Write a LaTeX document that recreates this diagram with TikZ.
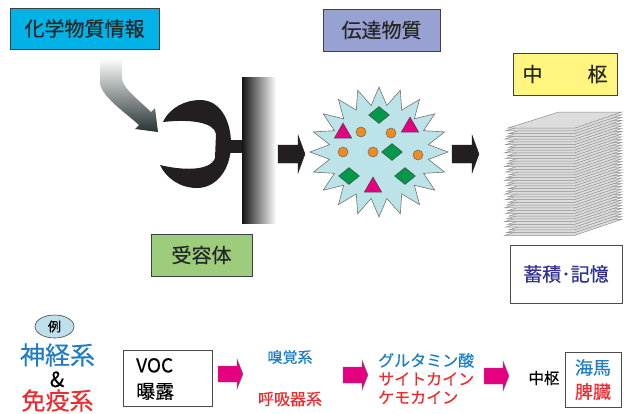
\documentclass[tikz,border=0pt]{standalone}
\usepackage{fontspec}
\setmainfont{Noto Sans CJK JP}[FakeBold=0.35]
\usetikzlibrary{shapes.geometric}

\definecolor{chembox}{HTML}{00B2E6}
\definecolor{transbox}{HTML}{97A2D3}
\definecolor{centbox}{HTML}{FFF57F}
\definecolor{recbox}{HTML}{9DCC7D}
\definecolor{burst}{HTML}{BCE3E7}
\definecolor{gem}{HTML}{00984A}
\definecolor{magentatri}{HTML}{E4007F}
\definecolor{orangedot}{HTML}{F08B22}
\definecolor{nerveblue}{HTML}{1E7DC5}
\definecolor{immunered}{HTML}{EE2A2E}
\definecolor{memblue}{HTML}{2F3191}
\definecolor{reifill}{HTML}{BDE0EA}
\definecolor{arrowdark}{HTML}{231F20}
\definecolor{sheetfill}{HTML}{DCDCDD}
\definecolor{sheetline}{HTML}{8E8E90}

\tikzset{
  titlebox/.style={draw=black!75, line width=0.9pt, inner sep=0pt,
    text=black!85, font=\fontsize{20}{24}\selectfont},
  whitebox/.style={draw=black!70, line width=0.8pt, fill=white, inner sep=0pt},
  gemstone/.style={diamond, draw=black!70, line width=0.5pt, fill=gem,
    minimum width=21pt, minimum height=17pt, inner sep=0pt},
  pyramid/.style={regular polygon, regular polygon sides=3, draw=black!70,
    line width=0.5pt, fill=magentatri, minimum size=20pt, inner sep=0pt},
  dot/.style={circle, draw=black!60, line width=0.5pt, fill=orangedot,
    minimum size=10pt, inner sep=0pt},
  smalltext/.style={inner sep=0pt, font=\fontsize{15}{18}\selectfont},
  pinkarrow/.pic={
    \filldraw[fill=magentatri, draw=black!55, line width=0.4pt]
      (0,-8) -- (19,-8) -- (19,-15) -- (25,0) -- (19,15) -- (19,8) -- (0,8) -- cycle;
  },
  blackarrow/.pic={
    \filldraw[fill=arrowdark, draw=arrowdark, line width=0.4pt]
      (0,-9) -- (20,-9) -- (20,-19) -- (27,0) -- (20,19) -- (20,9) -- (0,9) -- cycle;
  }
}

\begin{document}
\begin{tikzpicture}[x=1pt, y=-1pt]
\useasboundingbox (0,0) rectangle (628,413);

% ---- labels of the upper row ----
\node (chem) [titlebox, fill=chembox, minimum width=149pt, minimum height=41pt]
  at (84.5,28.5) {化学物質情報};
\node (trans) [titlebox, fill=transbox, minimum width=117pt, minimum height=42pt]
  at (381.5,30) {伝達物質};
\node (cent) [titlebox, fill=centbox, minimum width=104pt, minimum height=42pt]
  at (565,74) {中\hspace{45pt}枢};
\node (rec) [titlebox, fill=recbox, minimum width=101pt, minimum height=42pt]
  at (201.5,255) {受容体};
\node (store) [whitebox, minimum width=112pt, minimum height=58pt,
  text=memblue, font=\fontsize{19}{22}\selectfont] at (566,274) {蓄積･記憶};

% ---- incoming chemical signal ----
\shade[top color=white, bottom color={rgb,255:red,38;green,50;blue,50}]
  (100,58) -- (122,58) -- (122,78)
  .. controls (122,88) and (140,101) .. (151,112)
  -- (155,108) -- (158,132) -- (135,129) -- (139,125)
  .. controls (126,113) and (100,96) .. (100,82) -- cycle;

% ---- receptor and membrane ----
\fill[arrowdark]
  (163,122) .. controls (170,107) and (186,100) .. (200,100)
  .. controls (220,100) and (231,120) .. (231,144)
  .. controls (231,170) and (216,188) .. (197,188)
  .. controls (180,188) and (166,178) .. (160,165)
  .. controls (180,170) and (210,172) .. (215,158)
  -- (216,134)
  .. controls (214,122) and (190,119) .. (163,122) -- cycle;
\fill[arrowdark] (229,140) rectangle (243,153);
\shade[left color=black!92, middle color={rgb,255:red,120;green,126;blue,134},
  right color=white] (242,77) rectangle (276,223);

\pic at (278,154) {blackarrow};

% ---- transmitter burst ----
\filldraw[fill=burst, draw=black!55, line width=0.6pt]
  plot[samples at={0,...,39}]
  ({379+(59.5+9.5*cos(180*\x))*cos(9*\x)}, {152-(56+9*cos(180*\x))*sin(9*\x)})
  -- cycle;
\node (g1) [gemstone] at (379,115) {};
\node (g2) [gemstone] at (392,152) {};
\node (g3) [gemstone] at (349,176) {};
\node (g4) [gemstone] at (405,176) {};
\node (t1) [pyramid] at (343,133) {};
\node (t2) [pyramid] at (410,127) {};
\node (t3) [pyramid] at (373,187) {};
\node (d1) [dot] at (361,132) {};
\node (d2) [dot] at (391,133) {};
\node (d3) [dot] at (343,152) {};
\node (d4) [dot] at (373,152) {};
\node (d5) [dot] at (418,155) {};

\pic at (452,154) {blackarrow};

% ---- stack of sheets ----
\foreach \i in {0,...,39} {
  \pgfmathsetmacro{\yy}{112+(39-\i)*2.75}
  \pgfmathsetmacro{\dx}{mod(\i*7,5)-2}
  \filldraw[fill=sheetfill, draw=sheetline, line width=0.5pt]
    ({507+\dx},{\yy+16}) -- ({558+\dx},\yy) -- (622,\yy) -- (575,{\yy+16}) -- cycle;
}

% ---- example row ----
\node (rei) [ellipse, draw=black!75, line width=0.6pt, fill=reifill,
  minimum width=39pt, minimum height=23pt, inner sep=0pt,
  font=\fontsize{13}{15}\selectfont] at (54.5,326.5) {例};
\node (nerve) [inner sep=0pt, text=nerveblue, font=\fontsize{25}{28}\selectfont]
  at (57.5,355) {神経系};
\node (amp) [inner sep=0pt, text height=15pt, text depth=0pt,
  font=\fontsize{21}{24}\selectfont] at (57,379.5) {\&};
\node (immune) [inner sep=0pt, text=immunered, font=\fontsize{24}{28}\selectfont]
  at (57.5,400.5) {免疫系};

\node (voc) [whitebox, minimum width=89pt, minimum height=56pt] at (167.5,378) {};
\node (voctext) [anchor=west, align=left, inner sep=0pt,
  font=\fontsize{19}{26}\selectfont] at (136,379) {VOC\\曝露};

\pic at (218,374) {pinkarrow};

\node (olf) [smalltext, text=nerveblue] at (290,357) {嗅覚系};
\node (resp) [smalltext, text=immunered, font=\fontsize{16}{18}\selectfont]
  at (290,399) {呼吸器系};

\pic at (343,375) {pinkarrow};

\node (mediators) [anchor=west, align=left, inner sep=0pt,
  font=\fontsize{16}{18.5}\selectfont] at (378,378.5)
  {\textcolor{nerveblue}{グルタミン酸}\\\textcolor{immunered}{サイトカイン}\\\textcolor{immunered}{ケモカイン}};

\pic at (484,376) {pinkarrow};

\node (cnsword) [smalltext, font=\fontsize{15.5}{18}\selectfont] at (544,378) {中枢};
\node (organ) [whitebox, minimum width=56pt, minimum height=55pt, align=center,
  font=\fontsize{18}{24}\selectfont] at (593,379.5)
  {\textcolor{nerveblue}{海馬}\\\textcolor{immunered}{脾臓}};

\end{tikzpicture}
\end{document}
